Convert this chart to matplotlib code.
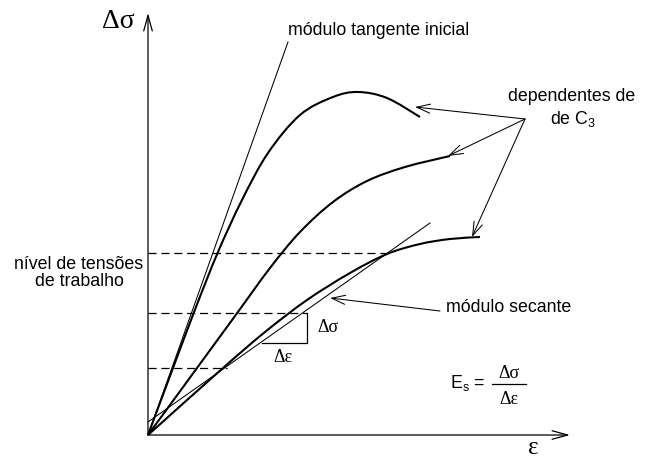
import numpy as np
import matplotlib
matplotlib.use("Agg")
import matplotlib.pyplot as plt
from matplotlib.path import Path
from matplotlib.patches import PathPatch

plt.rcParams['mathtext.fontset'] = 'custom'
plt.rcParams['mathtext.rm'] = 'Liberation Sans'
plt.rcParams['mathtext.it'] = 'Liberation Sans:italic'

SANS = 'Liberation Sans'
SERIF = 'Liberation Serif'

# stress-strain curves (strain, stress) in arbitrary units
curve1_eps = [0.0, 2.5, 4.8, 7.0, 9.4, 12.0, 15.2, 18.5, 21.0, 23.9, 27.2]
curve1_sig = [0.0, 6.7, 12.8, 18.3, 23.5, 28.2, 32.0, 33.8, 34.3, 33.7, 31.8]

curve2_eps = [0.0, 4.9, 8.7, 12.2, 15.2, 18.5, 21.9, 25.7, 30.2]
curve2_sig = [0.0, 6.7, 11.9, 16.7, 20.3, 23.3, 25.4, 26.8, 27.9]

curve3_eps = [0.0, 7.5, 11.7, 15.9, 20.2, 23.9, 27.2, 30.2, 33.2]
curve3_sig = [0.0, 6.7, 10.3, 13.5, 16.2, 18.1, 19.1, 19.6, 19.8]

# initial tangent modulus and secant modulus lines
tangent_eps = [0.0, 14.0]
tangent_sig = [0.0, 39.3]
secant_eps = [0.0, 28.2]
secant_sig = [1.3, 21.2]

# working stress levels and where each dashed line stops
stress_levels = [18.2, 12.2, 6.7]
level_ends = [23.9, 15.9, 7.9]

# secant slope triangle
tri_eps = [11.4, 15.9, 15.9]
tri_sig = [9.2, 9.2, 12.2]

axis_eps_max = 42.2
axis_sig_max = 42.2

# annotation anchors
c3_label_pt = (37.7, 31.6)
c3_targets = [(26.7, 32.8), (30.0, 27.9), (32.4, 19.8)]
secant_label_pt = (29.2, 12.4)
secant_target = (18.2, 13.7)


def smooth_path(xs, ys):
    """Catmull-Rom curve through the points, as cubic Bezier segments."""
    pts = np.column_stack([xs, ys]).astype(float)
    n = len(pts)
    verts = [pts[0]]
    codes = [Path.MOVETO]
    for i in range(n - 1):
        p0 = pts[i - 1] if i > 0 else pts[i]
        p1 = pts[i]
        p2 = pts[i + 1]
        p3 = pts[i + 2] if i + 2 < n else pts[i + 1]
        c1 = p1 + (p2 - p0) / 6.0
        c2 = p2 - (p3 - p1) / 6.0
        verts += [c1, c2, p2]
        codes += [Path.CURVE4] * 3
    return Path(verts, codes)


fig = plt.figure(figsize=(6.5, 4.63), dpi=100)
ax = fig.add_axes([0, 0, 1, 1])
ax.set_xlim(-14.8, 50.2)
ax.set_ylim(-2.8, 43.5)
ax.axis('off')

# axes with open arrowheads
for end in [(0, axis_sig_max), (axis_eps_max, 0)]:
    ax.annotate('', xy=end, xytext=(0, 0),
                arrowprops=dict(arrowstyle='->,head_length=0.8,head_width=0.22',
                                mutation_scale=14, lw=0.9, color='black',
                                shrinkA=0, shrinkB=0))

# curves
for xs, ys in [(curve1_eps, curve1_sig), (curve2_eps, curve2_sig),
               (curve3_eps, curve3_sig)]:
    ax.add_patch(PathPatch(smooth_path(xs, ys), fill=False, lw=1.5,
                           edgecolor='black', capstyle='butt'))

# tangent and secant lines
ax.plot(tangent_eps, tangent_sig, color='black', lw=0.75)
ax.plot(secant_eps, secant_sig, color='black', lw=0.75)

# dashed working stress levels
for lvl, end in zip(stress_levels, level_ends):
    ax.plot([0, end], [lvl, lvl], color='black', lw=0.9,
            dashes=(6.5, 3.8))

# slope triangle
ax.plot(tri_eps, tri_sig, color='black', lw=0.9)
ax.text(16.9, 10.7, 'Δσ', family=SERIF, fontsize=13, ha='left', va='center')
ax.text(13.5, 7.7, 'Δε', family=SERIF, fontsize=13, ha='center', va='center')

# arrows for "dependentes de C3" and the secant modulus
arrow_style = dict(arrowstyle='->,head_length=0.75,head_width=0.25',
                   mutation_scale=13, lw=0.75, color='black',
                   shrinkA=0, shrinkB=0)
for tgt in c3_targets:
    ax.annotate('', xy=tgt, xytext=c3_label_pt, arrowprops=arrow_style)
ax.annotate('', xy=secant_target, xytext=secant_label_pt,
            arrowprops=arrow_style)

# labels
ax.text(-1.3, 41.3, 'Δσ', family=SERIF, fontsize=20, ha='right', va='center')
ax.text(38.5, -1.9, 'ε', family=SERIF, fontsize=18, ha='center',
        va='baseline')
ax.text(14.0, 40.4, 'módulo tangente inicial', family=SANS, fontsize=12.8,
        ha='left', va='center')
ax.text(42.4, 33.8, 'dependentes de', family=SANS, fontsize=12.8,
        ha='center', va='center')
ax.text(42.5, 31.6, 'de C$_3$', family=SANS, fontsize=12.8,
        ha='center', va='center')
ax.text(29.8, 12.7, 'módulo secante', family=SANS, fontsize=12.8,
        ha='left', va='center')
ax.text(-6.9, 16.2, 'nível de tensões\nde trabalho', family=SANS,
        fontsize=12.8, ha='center', va='center', linespacing=0.95)

# secant modulus formula
ax.text(30.2, 5.2, 'E$_\\mathrm{s}$ =', family=SANS, fontsize=12.8,
        ha='left', va='center')
ax.plot([34.4, 37.8], [5.1, 5.1], color='black', lw=0.9)
ax.text(36.1, 6.2, 'Δσ', family=SERIF, fontsize=13, ha='center', va='center')
ax.text(36.1, 3.6, 'Δε', family=SERIF, fontsize=13, ha='center', va='center')

fig.savefig('out.png', dpi=100, facecolor='white')
